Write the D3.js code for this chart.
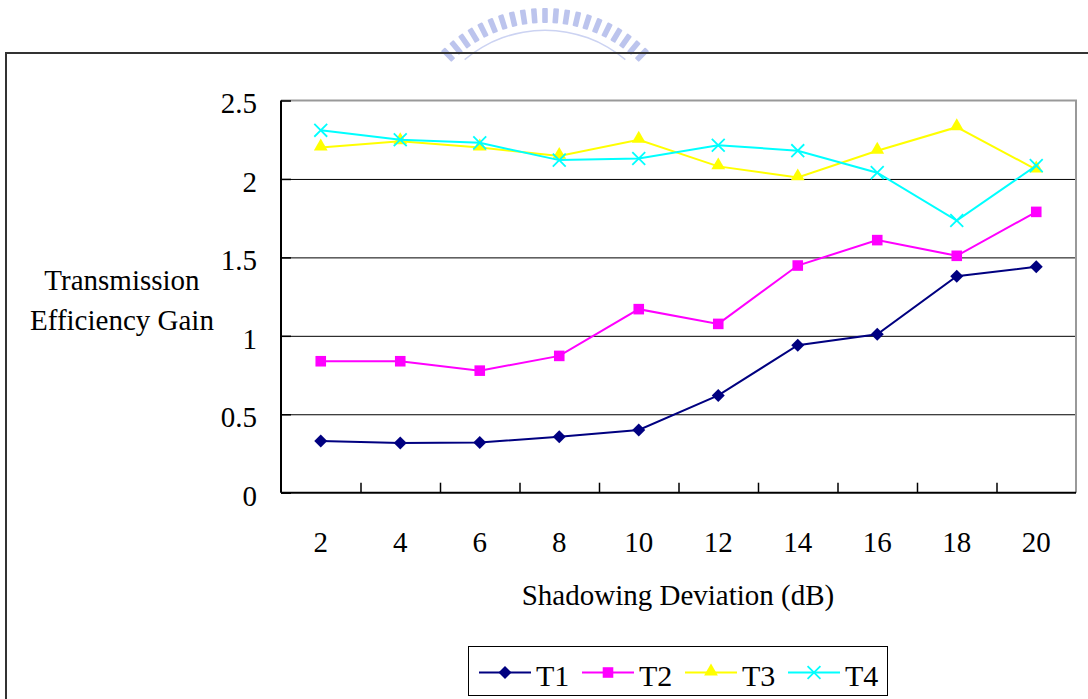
<!DOCTYPE html>
<title>Transmission Efficiency Gain</title>
<meta charset="utf-8">
<style>
  body { margin: 0; background: #fff; }
  .domain { display: none; }
</style>
<body>
<script src="https://cdn.jsdelivr.net/npm/d3@7"></script>
<div id="chart"></div>
<script>
// data
var categories = ["2", "4", "6", "8", "10", "12", "14", "16", "18", "20"];
var seriesNames = ["T1", "T2", "T3", "T4"];
var t1 = [0.33, 0.317, 0.32, 0.357, 0.40, 0.62, 0.94, 1.01, 1.38, 1.44];
var t2 = [0.838, 0.838, 0.778, 0.872, 1.17, 1.076, 1.448, 1.61, 1.51, 1.79];
var t3 = [2.20, 2.24, 2.20, 2.147, 2.25, 2.08, 2.01, 2.18, 2.33, 2.06];
var t4 = [2.31, 2.25, 2.23, 2.12, 2.13, 2.215, 2.18, 2.04, 1.735, 2.085];
var yTicks = [0, 0.5, 1, 1.5, 2, 2.5];

var series = [
  {name: "T1", values: t1, color: "#000080", marker: "diamond"},
  {name: "T2", values: t2, color: "#ff00ff", marker: "square"},
  {name: "T3", values: t3, color: "#ffff00", marker: "triangle"},
  {name: "T4", values: t4, color: "#00ffff", marker: "x"}
];

var FONT = "'Liberation Serif', 'Times New Roman', 'DejaVu Serif', serif";
var W = 1088, H = 699;
var plot = {left: 281, right: 1076, top: 100.5, bottom: 492.7};

var svg = d3.select("#chart").append("svg")
    .attr("width", W).attr("height", H);

// faint logo watermark at the top
var logo = svg.append("g").attr("transform", "translate(545,155)");
d3.range(-44, 45, 4.4).forEach(function(a) {
  logo.append("rect")
    .attr("x", -2.8).attr("y", -147)
    .attr("width", 5.6).attr("height", 15)
    .attr("rx", 1)
    .attr("fill", "#9fabe6")
    .attr("opacity", 0.7)
    .attr("transform", "rotate(" + a + ")");
});
logo.append("path")
  .attr("d", d3.arc()({innerRadius: 124, outerRadius: 125.5, startAngle: -0.7, endAngle: 0.7}))
  .attr("fill", "#ccd3f2");

// outer chart frame (runs off the page to the right and bottom)
svg.append("rect")
  .attr("x", 6).attr("y", 53)
  .attr("width", 1200).attr("height", 800)
  .attr("fill", "none")
  .attr("stroke", "#333").attr("stroke-width", 2);

var x = d3.scaleBand().domain(categories).range([plot.left, plot.right]).padding(0);
var xEdge = d3.scaleLinear().domain([0, categories.length]).range([plot.left, plot.right]);
var y = d3.scaleLinear().domain([0, 2.5]).range([plot.bottom, plot.top]);
function cx(i) { return x(categories[i]) + x.bandwidth() / 2; }

// gridlines
svg.append("g")
  .attr("transform", "translate(" + plot.left + ",0)")
  .call(d3.axisRight(y).tickValues([0.5, 1, 1.5, 2]).tickSize(plot.right - plot.left).tickFormat(""))
  .selectAll("line").attr("stroke", "#000").attr("stroke-width", 1);

// plot area border top / right
svg.append("path")
  .attr("d", "M" + plot.left + "," + plot.top + "H" + plot.right + "V" + plot.bottom)
  .attr("fill", "none").attr("stroke", "#999").attr("stroke-width", 2);

// y axis
var yAxis = svg.append("g")
  .attr("transform", "translate(" + plot.left + ",0)")
  .call(d3.axisLeft(y).tickValues(yTicks).tickSize(-10).tickPadding(24)
        .tickFormat(function(d) { return d; }));
yAxis.attr("font-family", null).attr("font-size", null);
yAxis.selectAll("line").attr("stroke", "#000").attr("stroke-width", 1.5);
yAxis.selectAll("text").attr("dy", "0.43em")
  .style("font-family", FONT).style("font-size", "29px").attr("fill", "#000");
svg.append("line")
  .attr("x1", plot.left).attr("x2", plot.left)
  .attr("y1", plot.top).attr("y2", plot.bottom)
  .attr("stroke", "#000").attr("stroke-width", 2);

// x axis: inside ticks on the category edges, labels in the middle
svg.append("g")
  .attr("transform", "translate(0," + plot.bottom + ")")
  .call(d3.axisBottom(xEdge).tickValues(d3.range(1, categories.length)).tickSize(-10).tickFormat(""))
  .selectAll("line").attr("stroke", "#000").attr("stroke-width", 1.5);
var xAxis = svg.append("g")
  .attr("transform", "translate(0," + plot.bottom + ")")
  .call(d3.axisBottom(x).tickSize(0).tickPadding(39));
xAxis.selectAll("line").remove();
xAxis.selectAll("text")
  .style("font-family", FONT).style("font-size", "29px").attr("fill", "#000");
svg.append("line")
  .attr("x1", plot.left).attr("x2", plot.right)
  .attr("y1", plot.bottom).attr("y2", plot.bottom)
  .attr("stroke", "#000").attr("stroke-width", 2);

// axis titles
svg.append("text")
  .attr("x", 678).attr("y", 605)
  .attr("text-anchor", "middle")
  .style("font-family", FONT).style("font-size", "29px")
  .text("Shadowing Deviation (dB)");
var yTitle = svg.append("text")
  .attr("text-anchor", "middle")
  .style("font-family", FONT).style("font-size", "29px");
yTitle.append("tspan").attr("x", 122).attr("y", 290).text("Transmission");
yTitle.append("tspan").attr("x", 122).attr("y", 330).text("Efficiency Gain");

// markers
function markerPath(kind) {
  if (kind === "diamond") return d3.symbol(d3.symbolSquare, 84)();
  if (kind === "square") return d3.symbol(d3.symbolSquare, 112)();
  if (kind === "triangle") return d3.symbol(d3.symbolTriangle, 82)();
  return d3.symbol(d3.symbolX, 110)();
}
function drawMarker(g, s, px, py) {
  var p = g.append("path")
    .attr("d", markerPath(s.marker));
  if (s.marker === "x") {
    p.attr("fill", "none").attr("stroke", s.color).attr("stroke-width", 1.8);
  } else {
    p.attr("fill", s.color);
  }
  var rot = s.marker === "diamond" ? " rotate(45)" : "";
  var dyT = s.marker === "triangle" ? -1 : 0;
  p.attr("transform", "translate(" + px + "," + (py + dyT) + ")" + rot);
}

var line = d3.line()
  .x(function(d, i) { return cx(i); })
  .y(function(d) { return y(d); });

series.forEach(function(s) {
  svg.append("path")
    .datum(s.values)
    .attr("d", line)
    .attr("fill", "none")
    .attr("stroke", s.color)
    .attr("stroke-width", 2);
  var g = svg.append("g");
  s.values.forEach(function(v, i) { drawMarker(g, s, cx(i), y(v)); });
});

// legend
var legend = svg.append("g");
legend.append("rect")
  .attr("x", 468.5).attr("y", 646.5)
  .attr("width", 419).attr("height", 49)
  .attr("fill", "#fff").attr("stroke", "#000").attr("stroke-width", 1);
series.forEach(function(s, i) {
  var x0 = 479 + i * 103;
  legend.append("line")
    .attr("x1", x0).attr("x2", x0 + 52)
    .attr("y1", 672.5).attr("y2", 672.5)
    .attr("stroke", s.color).attr("stroke-width", 2);
  drawMarker(legend, s, x0 + 26, 672.5);
  legend.append("text")
    .attr("x", x0 + 57).attr("y", 686)
    .style("font-family", FONT).style("font-size", "30px")
    .text(seriesNames[i]);
});
</script>
</body>
